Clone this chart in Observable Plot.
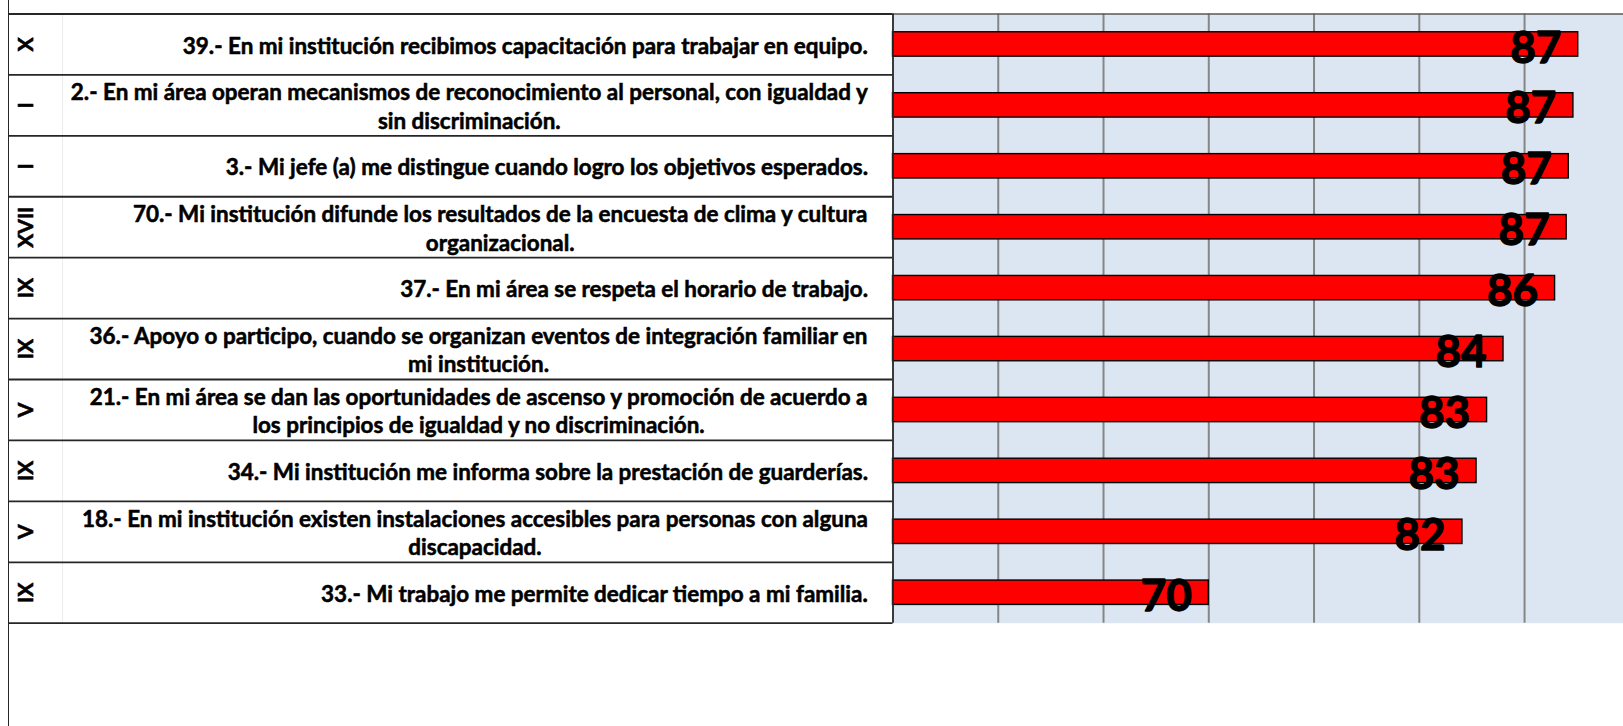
<!DOCTYPE html>
<html>
<head>
<meta charset="utf-8">
<script src="https://cdn.jsdelivr.net/npm/d3@7"></script>
<script src="https://cdn.jsdelivr.net/npm/@observablehq/plot@0.6"></script>
<style>
  html, body { margin: 0; padding: 0; background: white; overflow: hidden; }
  #wrap { position: relative; width: 1623px; height: 726px; }
  #wrap svg { position: absolute; left: 0; top: 0; }
  #border { position: absolute; left: 8px; top: 0; width: 0; height: 726px; border-left: 1.8px solid #262626; }
</style>
</head>
<body>
<div id="wrap"><div id="border"></div></div>
<script>
// ---- data ----
const romans = ["X", "I", "I", "XVII", "IX", "IX", "V", "IX", "V", "IX"];
const questions = [
  "39.- En mi institución recibimos capacitación para trabajar en equipo.",
  "2.- En mi área operan mecanismos de reconocimiento al personal, con igualdad y\nsin discriminación.",
  "3.- Mi jefe (a) me distingue cuando logro los objetivos esperados.",
  "70.- Mi institución difunde los resultados de la encuesta de clima y cultura\norganizacional.",
  "37.- En mi área se respeta el horario de trabajo.",
  "36.- Apoyo o participo, cuando se organizan eventos de integración familiar en\nmi institución.",
  "21.- En mi área se dan las oportunidades de ascenso y promoción de acuerdo a\nlos principios de igualdad y no discriminación.",
  "34.- Mi institución me informa sobre la prestación de guarderías.",
  "18.- En mi institución existen instalaciones accesibles para personas con alguna\ndiscapacidad.",
  "33.- Mi trabajo me permite dedicar tiempo a mi familia."
];
const values = [87.55, 87.32, 87.1, 87.0, 86.45, 84.0, 83.22, 82.72, 82.05, 70.0];
const labels = ["87", "87", "87", "87", "86", "84", "83", "83", "82", "70"];
const gridTicks = [60, 65, 70, 75, 80, 85];
const xDomain = [55, 89.7];

// ---- layout ----
const W = 1623, H = 726;
const plotTop = 13.5, plotBottom = 622.7;
const tableLeft = 8, tableRight = 892.5;
const labelRight = 867.5 - tableLeft;   // in table px
const numeralX = 26 - tableLeft;
const colDiv = 62 - tableLeft;
const font = "Lato";

const rows = questions.map((q, i) => ({i, q, roman: romans[i], value: values[i], label: labels[i]}));
const boundaries = d3.range(rows.length + 1).map(k => k - 0.5);
const yScale = {domain: [-0.5, rows.length - 0.5], reverse: true, axis: null};

// measure text to center multi-line labels inside a right-aligned block
const ctx = document.createElement("canvas").getContext("2d");
function measure(s, size) { ctx.font = `bold ${size}px ${font}`; return ctx.measureText(s).width; }
const refLine = questions[1].split("\n")[0];
const labelSize = 100 * 798 / measure(refLine, 100);
const blockWidth = q => d3.max(q.split("\n"), l => measure(l, labelSize));

// ---- chart (right) ----
const chart = Plot.plot({
  width: W, height: H,
  marginLeft: tableRight, marginRight: 0, marginTop: plotTop, marginBottom: H - plotBottom,
  x: {domain: xDomain, axis: null},
  y: yScale,
  style: {fontFamily: font},
  marks: [
    Plot.frame({fill: "#DCE6F2", stroke: null}),
    Plot.ruleX(gridTicks, {stroke: "#868686", strokeWidth: 2}),
    Plot.ruleY([-0.5], {stroke: "#595959", strokeWidth: 1.5}),
    Plot.rectX(rows, {x1: () => xDomain[0], x2: "value", y1: d => d.i - 0.2, y2: d => d.i + 0.2,
      fill: "#FF0000", stroke: "#000", strokeWidth: 1.4}),
    Plot.text(rows, {x: "value", y: "i", text: "label", textAnchor: "end", dx: -17, dy: 4,
      fontSize: 44, fontWeight: "bold", fill: "#000", stroke: "#000", strokeWidth: 1.3, fontFamily: font})
  ]
});

// ---- table (left) ----
const table = Plot.plot({
  width: W, height: H,
  marginLeft: tableLeft, marginRight: W - tableRight, marginTop: plotTop, marginBottom: H - plotBottom,
  x: {domain: [0, tableRight - tableLeft], axis: null},
  y: yScale,
  style: {fontFamily: font, background: "transparent"},
  marks: [
    Plot.ruleX([colDiv], {stroke: "#ececec", strokeWidth: 1}),
    Plot.ruleY(boundaries, {y: d => d, x1: () => 0, x2: () => tableRight - tableLeft, stroke: "#262626", strokeWidth: 1.8}),
    Plot.ruleX([tableRight - tableLeft], {stroke: "#262626", strokeWidth: 1.8}),
    Plot.text(rows, {x: () => numeralX, y: "i", text: "roman", rotate: -90, fontSize: 21,
      fontWeight: "bold", fill: "#000", stroke: "#000", strokeWidth: 0.6, fontFamily: font}),
    Plot.text(rows, {x: d => labelRight - blockWidth(d.q) / 2, y: "i", text: "q", textAnchor: "middle",
      fontSize: labelSize, lineHeight: 28.5 / labelSize, fontWeight: "bold", fill: "#000",
      stroke: "#000", strokeWidth: 0.55, fontFamily: font})
  ]
});

const wrap = document.getElementById("wrap");
wrap.appendChild(chart);
wrap.appendChild(table);
</script>
</body>
</html>
